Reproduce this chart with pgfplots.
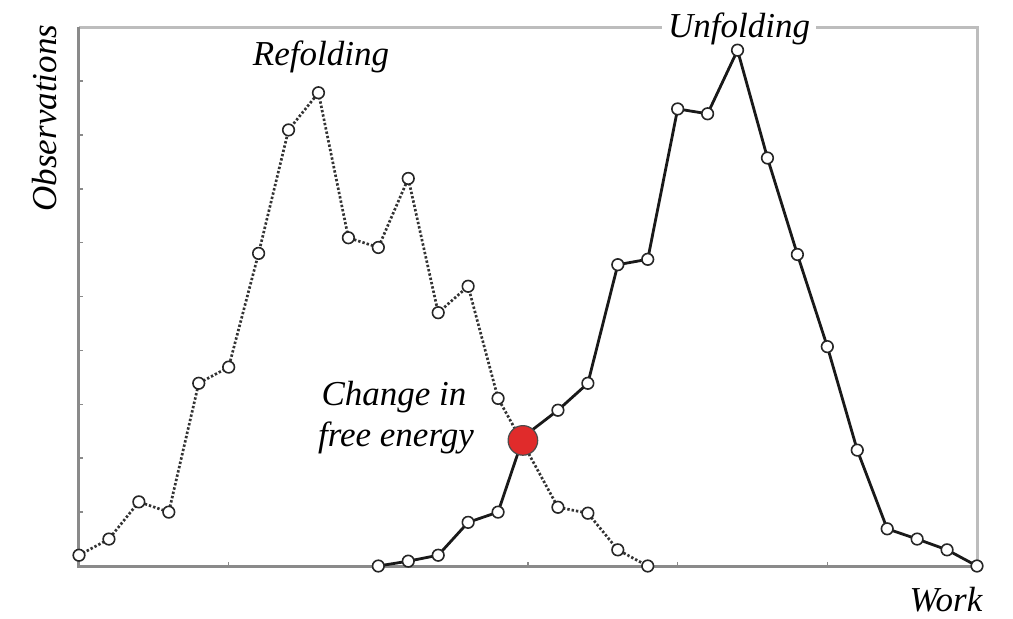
\documentclass[border=0pt]{standalone}
\usepackage{pgfplots}
\pgfplotsset{compat=1.18}
\usepackage{fontspec}
\setmainfont{Liberation Serif}
\definecolor{frameA}{HTML}{8A8A8A}
\definecolor{frameB}{HTML}{BDBDBD}
\definecolor{dotred}{HTML}{E02B2B}
\definecolor{dotline}{HTML}{333333}
\begin{document}
\begin{tikzpicture}
\path[use as bounding box] (-39.5pt,-26pt) rectangle (467pt,283pt);
\begin{axis}[at={(0,0)}, anchor=south west,
  width=449pt, height=269.5pt, scale only axis,
  xmin=0, xmax=30, ymin=0, ymax=100,
  axis line style={draw=none},
  xtick={0,5,...,30}, ytick={0,10,...,90},
  xticklabels={}, yticklabels={},
  tick align=inside, major tick length=2pt,
  tick style={frameA, line width=0.8pt},
  xtick pos=left, ytick pos=left,
  clip=false,
  font=\fontsize{17.5}{21}\selectfont\itshape]
\draw[frameB, line width=1.5pt] (rel axis cs:0,1) -- (rel axis cs:1,1) -- (rel axis cs:1,0);
\draw[frameA, line width=1.5pt] (rel axis cs:0,1) -- (rel axis cs:0,0) -- (rel axis cs:1,0);
\addplot[dotline, line width=1.35pt, dash pattern=on 1.2pt off 1pt,
  mark=*, mark size=2.9pt, mark options={solid, fill=white, draw=black!85, line width=0.8pt}]
  coordinates {(0,2.0) (1,5.0) (2,11.9) (3,10.0) (4,33.9) (5,36.9) (6,58.0) (7,80.9) (8,87.8) (9,60.9)
  (10,59.1) (11,71.9) (12,47.0) (13,51.9) (14,31.1) (14.85,22.6) (16,10.9) (17,9.8) (18,3.0) (19,0)};
\addplot[black!90, line width=1.4pt,
  mark=*, mark size=2.9pt, mark options={solid, fill=white, draw=black!85, line width=0.8pt}]
  coordinates {(10,0) (11,0.9) (12,2.0) (13,8.1) (14,10.0) (14.85,24.0) (16,28.9) (17,33.9) (18,55.9) (19,56.9)
  (20,84.8) (21,83.9) (22,95.7) (23,75.7) (24,57.8) (25,40.7) (26,21.5) (27,6.9) (28,5.0) (29,3.0) (30,0)};
\addplot[only marks, mark=*, mark size=7.4pt, mark options={fill=dotred, draw=black!70, line width=0.6pt}]
  coordinates {(14.83,23.3)};
\node[fill=white, inner xsep=3.2pt, inner ysep=1pt, anchor=base] at (rel axis cs:0.735,0.981) {Unfolding};
\node[anchor=base] at (rel axis cs:0.2695,0.9295) {Refolding};
\node[anchor=base] at (rel axis cs:0.3508,0.2987) {Change in};
\node[anchor=base] at (rel axis cs:0.353,0.2226) {free energy};
\node[anchor=base] at (rel axis cs:0.9655,-0.0853) {Work};
\node[anchor=base, rotate=90] at (rel axis cs:-0.0245,0.831) {Observations};
\end{axis}
\end{tikzpicture}
\end{document}
